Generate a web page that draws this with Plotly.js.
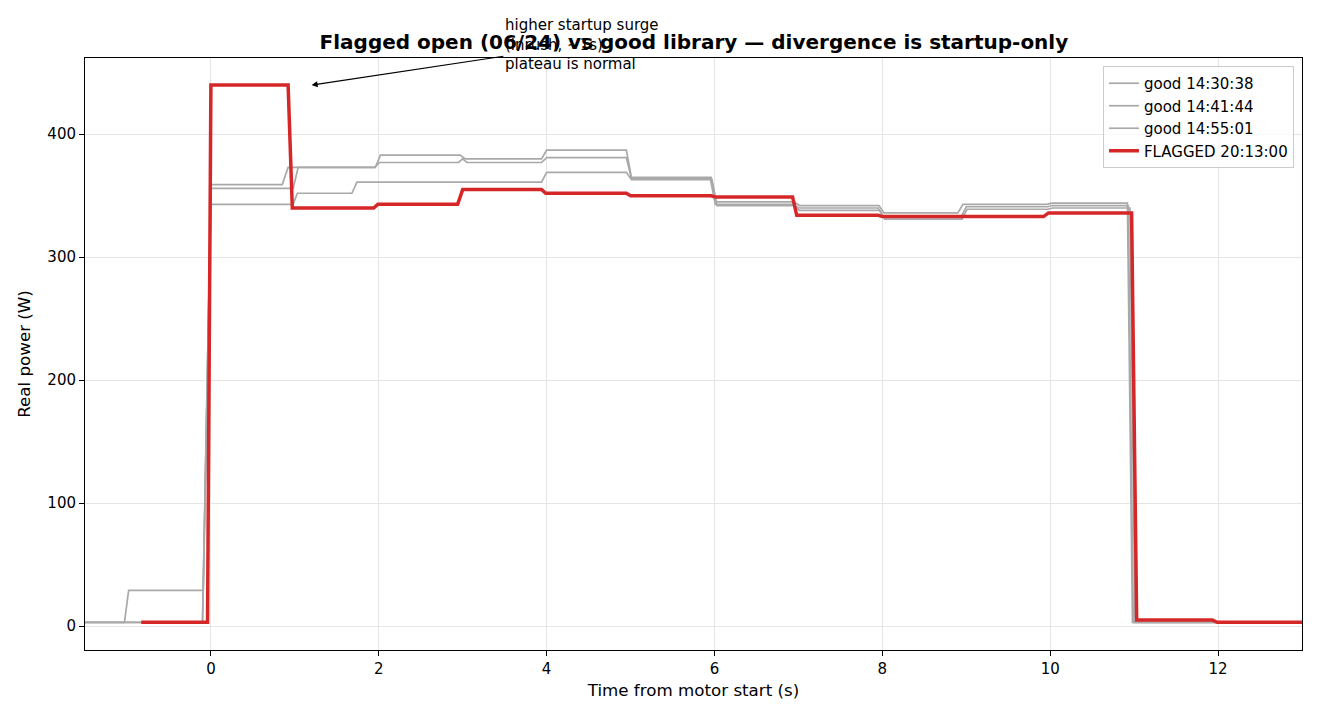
<!DOCTYPE html>
<html>
<head>
<meta charset="utf-8">
<script src="https://cdn.plot.ly/plotly-3.0.1.min.js"></script>
<style>
  html, body { margin: 0; padding: 0; background: #fff; }
  #plot { width: 1320px; height: 720px; }
</style>
</head>
<body>
<div id="plot"></div>
<script>
// values: time (s) and real power (W) at each step edge
var good1_t = [-1.5, -1.03, -0.98, -0.09, 0.0, 0.85, 0.92, 1.96, 2.02, 2.97, 3.03, 3.94, 4.0, 4.95, 5.01, 5.96, 6.02, 6.95, 7.01, 7.96, 8.02, 8.9, 8.96, 9.96, 10.02, 10.92, 10.98, 12.0];
var good1_w = [3, 3, 29, 29, 359, 359, 373, 373, 383, 383, 380, 380, 387, 387, 365, 365, 345, 345, 342, 342, 336, 336, 343, 343, 344, 344, 3, 3];

var good2_t = [-1.5, -0.1, 0.0, 0.98, 1.04, 1.95, 2.01, 2.95, 3.0, 3.05, 3.94, 4.0, 4.95, 5.01, 5.95, 6.01, 6.94, 7.0, 7.95, 8.01, 8.94, 9.0, 9.97, 10.03, 10.93, 10.99, 12.0];
var good2_w = [3, 3, 356, 356, 373, 373, 377, 377, 380, 377, 377, 381, 381, 364, 364, 343, 343, 340, 340, 333, 333, 341, 341, 342, 342, 3, 3];

var good3_t = [-1.5, -0.1, 0.0, 0.98, 1.03, 1.68, 1.74, 3.94, 4.0, 4.95, 5.01, 5.97, 6.03, 6.95, 7.01, 7.97, 8.03, 8.95, 9.01, 9.97, 10.03, 10.95, 11.01, 12.0];
var good3_w = [3, 3, 343, 343, 352, 352, 361, 361, 369, 369, 363, 363, 342, 342, 338, 338, 331, 331, 339, 339, 340, 340, 3, 3];

var flagged_t = [-0.83, -0.04, 0.0, 0.92, 0.97, 1.94, 1.99, 2.94, 3.0, 3.94, 3.99, 4.95, 5.0, 5.96, 6.01, 6.93, 6.98, 7.95, 8.0, 9.92, 9.98, 10.97, 11.03, 11.93, 11.99, 13.0];
var flagged_w = [3, 3, 440, 440, 340, 340, 343, 343, 355, 355, 352, 352, 350, 350, 349, 349, 334, 334, 333, 333, 336, 336, 5, 5, 3, 3];

var names = ["good 14:30:38", "good 14:41:44", "good 14:55:01", "FLAGGED 20:13:00"];
var x_ticks = [0, 2, 4, 6, 8, 10, 12];
var y_ticks = [0, 100, 200, 300, 400];

var gray = "#a9a9a9";
var red = "#d62728";
var font = "DejaVu Sans, Verdana, sans-serif";

function goodTrace(t, w, name) {
  return {
    x: t, y: w, name: name,
    type: "scatter", mode: "lines",
    line: { color: gray, width: 1.7 },
    hoverinfo: "skip"
  };
}

var traces = [
  goodTrace(good1_t, good1_w, names[0]),
  goodTrace(good2_t, good2_w, names[1]),
  goodTrace(good3_t, good3_w, names[2]),
  {
    x: flagged_t, y: flagged_w, name: names[3],
    type: "scatter", mode: "lines",
    line: { color: red, width: 3.5 },
    hoverinfo: "skip"
  }
];

var axisStyle = {
  showline: true, linecolor: "black", linewidth: 1, mirror: true,
  ticks: "outside", ticklen: 5, tickwidth: 1, tickcolor: "black",
  showgrid: true, gridcolor: "#e5e5e5", gridwidth: 1,
  zeroline: false,
  tickfont: { family: font, size: 15, color: "black" }
};

var layout = {
  width: 1320, height: 720,
  paper_bgcolor: "white", plot_bgcolor: "white",
  margin: { l: 85, r: 18, t: 58, b: 70 },
  font: { family: font, color: "black" },
  title: {
    text: "Flagged open (06/24) vs good library \u2014 divergence is startup-only",
    font: { family: font, size: 20, weight: 700, color: "black" },
    x: 0.5257, xanchor: "center",
    yref: "container", y: 1 - 42 / 720, yanchor: "middle"
  },
  xaxis: Object.assign({}, axisStyle, {
    range: [-1.5, 13],
    tickvals: x_ticks,
    title: { text: "Time from motor start (s)", font: { family: font, size: 16.7, color: "black" }, standoff: 7 }
  }),
  yaxis: Object.assign({}, axisStyle, {
    range: [-19.5, 462],
    tickvals: y_ticks,
    title: { text: "Real power (W)", font: { family: font, size: 16.7, color: "black" }, standoff: 12 }
  }),
  showlegend: true,
  legend: {
    x: 0.9934, xanchor: "right", y: 0.9865, yanchor: "top",
    bgcolor: "rgba(255,255,255,0.8)", bordercolor: "#cccccc", borderwidth: 1,
    font: { family: font, size: 15, color: "black" },
    itemwidth: 30, tracegroupgap: 0
  },
  annotations: [{
    x: 1.2, y: 440, xref: "x", yref: "y",
    ax: 4.42, ay: 473, axref: "x", ayref: "y",
    text: "higher startup surge<br>(inrush, ~1s)<br>plateau is normal",
    align: "left", showarrow: true,
    arrowhead: 2, arrowsize: 1, arrowwidth: 1.2, arrowcolor: "black",
    font: { family: font, size: 15, color: "black" }
  }]
};

Plotly.newPlot("plot", traces, layout, { displayModeBar: false, staticPlot: true });
</script>
</body>
</html>
